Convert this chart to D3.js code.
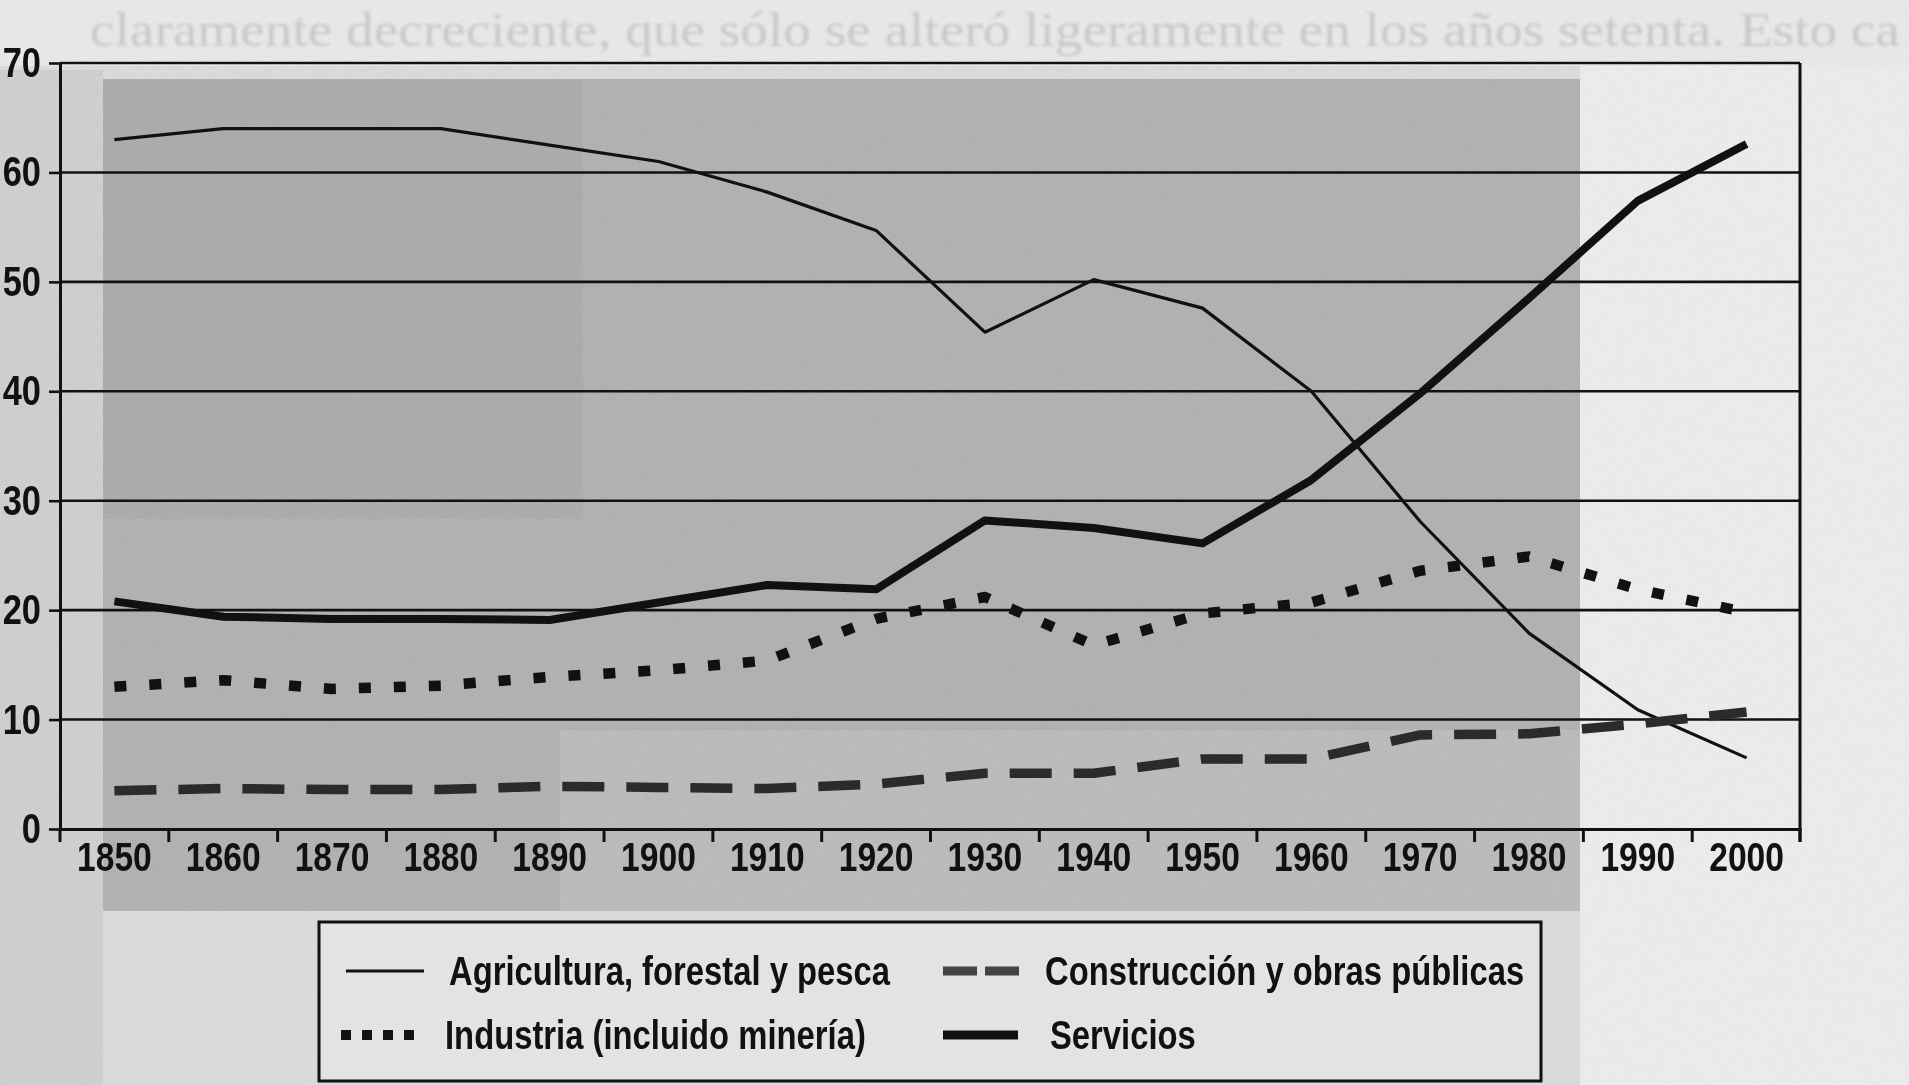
<!DOCTYPE html>
<html>
<head>
<meta charset="utf-8">
<script src="https://cdn.jsdelivr.net/npm/d3@7"></script>
<style>
  html, body { margin: 0; padding: 0; background: #e4e4e4; overflow: hidden; }
  svg { display: block; }
</style>
</head>
<body>
<div id="chart"></div>
<script>
const width = 1909
const height = 1085

const years = [1850, 1860, 1870, 1880, 1890, 1900, 1910, 1920, 1930, 1940, 1950, 1960, 1970, 1980, 1990, 2000]
const agricultura = [63, 64, 64, 64, 62.5, 61, 58.2, 54.7, 45.4, 50.2, 47.6, 40, 28.1, 17.9, 10.9, 6.5]
const industria = [13, 13.6, 12.8, 13.1, 13.9, 14.5, 15.4, 19.2, 21.2, 16.8, 19.7, 20.7, 23.6, 24.9, 21.9, 19.8]
const construccion = [3.5, 3.7, 3.6, 3.6, 3.9, 3.8, 3.7, 4.1, 5.1, 5.1, 6.4, 6.4, 8.6, 8.7, 9.6, 10.7]
const servicios = [20.8, 19.4, 19.2, 19.2, 19.1, 20.7, 22.3, 21.9, 28.2, 27.5, 26.1, 31.9, 39.8, 48.5, 57.4, 62.6]
const yTicks = [0, 10, 20, 30, 40, 50, 60, 70]
const names = ['Agricultura, forestal y pesca', 'Industria (incluido minería)', 'Construcción y obras públicas', 'Servicios']
const pageText = 'claramente decreciente, que sólo se alteró ligeramente en los años setenta. Esto ca'

// narrow font if there is one, else squeeze the normal one
function hasFont(name) {
  const ctx = document.createElement('canvas').getContext('2d')
  ctx.font = '40px monospace'
  const a = ctx.measureText('Agricultura 1850').width
  ctx.font = `40px "${name}", monospace`
  return ctx.measureText('Agricultura 1850').width !== a
}
const narrow = hasFont('Liberation Sans Narrow')
const font = narrow ? '"Liberation Sans Narrow", "Liberation Sans", Arial, sans-serif' : '"Liberation Sans", Arial, sans-serif'
const sx = narrow ? 1 : 0.82

const svg = d3.select('#chart').append('svg')
  .attr('width', width)
  .attr('height', height)

// paper / scan background
const defs = svg.append('defs')
const grain = defs.append('filter').attr('id', 'grain').attr('x', 0).attr('y', 0).attr('width', 1).attr('height', 1)
grain.append('feTurbulence').attr('type', 'fractalNoise').attr('baseFrequency', 0.75).attr('numOctaves', 2).attr('seed', 4)
grain.append('feColorMatrix').attr('type', 'saturate').attr('values', 0)
defs.append('filter').attr('id', 'soft').append('feGaussianBlur').attr('stdDeviation', 1.6)

const bg = svg.append('g')
bg.append('rect').attr('width', width).attr('height', height).attr('fill', '#e0e0e0')
bg.append('rect').attr('x', 0).attr('y', 70).attr('width', 103).attr('height', 1015).attr('fill', '#d4d4d4')
bg.append('rect').attr('x', 1580).attr('y', 0).attr('width', 329).attr('height', 1085).attr('fill', '#f1f1f1')
bg.append('rect').attr('x', 0).attr('y', 0).attr('width', 1909).attr('height', 66).attr('fill', '#eeeeee')
bg.append('rect').attr('x', 103).attr('y', 79).attr('width', 1477).attr('height', 832).attr('fill', '#b6b6b6')
bg.append('rect').attr('x', 103).attr('y', 79).attr('width', 480).attr('height', 440).attr('fill', '#b0b0b0')
bg.append('rect').attr('x', 560).attr('y', 730).attr('width', 1020).attr('height', 181).attr('fill', '#c0c0c0')
bg.append('rect').attr('width', width).attr('height', height)
  .attr('filter', 'url(#grain)').attr('opacity', 0.2)
  .style('mix-blend-mode', 'multiply')

bg.append('text')
  .attr('x', 90).attr('y', 46)
  .attr('textLength', 1810).attr('lengthAdjust', 'spacingAndGlyphs')
  .attr('font-family', '"Liberation Serif", "DejaVu Serif", serif')
  .attr('font-size', 48)
  .attr('fill', '#c9c9c9')
  .attr('filter', 'url(#soft)')
  .text(pageText)

// scales
const x = d3.scaleBand().domain(years).range([60, 1801]).padding(0)
const cx = d => x(d) + x.bandwidth() / 2
const y = d3.scaleLinear().domain([0, 70]).range([829, 63])
const x0 = x.range()[0]
const x1 = x.range()[1] - 1

const ink = '#111'

// grid lines + frame
svg.append('g').selectAll('line')
  .data(yTicks.filter(d => d > 0))
  .enter().append('line')
  .attr('x1', x0).attr('x2', x1)
  .attr('y1', d => y(d)).attr('y2', d => y(d))
  .attr('stroke', ink).attr('stroke-width', 2.6)

svg.append('line')
  .attr('x1', x1).attr('x2', x1)
  .attr('y1', y(70)).attr('y2', y(0) + 13)
  .attr('stroke', ink).attr('stroke-width', 3)

// y axis
const yAxis = svg.append('g')
  .attr('transform', `translate(${x0},0)`)
  .call(d3.axisLeft(y).tickValues(yTicks).tickSize(11).tickPadding(9).tickSizeOuter(0))
yAxis.select('.domain').attr('stroke', ink).attr('stroke-width', 3)
yAxis.selectAll('.tick line').attr('stroke', ink).attr('stroke-width', 2.6)
yAxis.selectAll('text')
  .attr('font-family', font).attr('font-weight', 'bold').attr('font-size', 42).attr('fill', ink)
  .attr('x', -19 / sx)
  .attr('transform', `scale(${sx},1)`)

// x axis
const xAxis = svg.append('g')
  .attr('transform', `translate(0,${y(0)})`)
  .call(d3.axisBottom(x).tickSize(0).tickPadding(13))
xAxis.select('.domain').attr('stroke', ink).attr('stroke-width', 3)
xAxis.selectAll('text')
  .attr('font-family', font).attr('font-weight', 'bold').attr('font-size', 41).attr('fill', ink)
  .attr('transform', `scale(${sx},1)`)
xAxis.selectAll('.bound')
  .data(years.map(d => x(d)).concat([x1]))
  .enter().append('line')
  .attr('class', 'bound')
  .attr('x1', d => d).attr('x2', d => d)
  .attr('y1', 0).attr('y2', 13)
  .attr('stroke', ink).attr('stroke-width', 3)

// series
const series = [
  { name: names[0], values: agricultura, width: 3.2, dash: null, color: ink },
  { name: names[1], values: industria, width: 10.5, dash: '12 23', color: ink },
  { name: names[2], values: construccion, width: 9.5, dash: '42 22', color: '#2b2b2b' },
  { name: names[3], values: servicios, width: 8, dash: null, color: ink }
]

const line = d3.line()
  .x((d, i) => cx(years[i]))
  .y(d => y(d))

svg.append('g').selectAll('path')
  .data(series)
  .enter().append('path')
  .attr('d', d => line(d.values))
  .attr('fill', 'none')
  .attr('stroke', d => d.color)
  .attr('stroke-width', d => d.width)
  .attr('stroke-dasharray', d => d.dash)
  .attr('stroke-linejoin', 'round')

// legend
const legend = svg.append('g')
legend.append('rect')
  .attr('x', 319).attr('y', 922).attr('width', 1222).attr('height', 159)
  .attr('fill', '#e3e3e3').attr('stroke', ink).attr('stroke-width', 3)

const items = [
  { s: series[0], lx: 346, lw: 78, ly: 971, tx: 449, dash: null, width: 3.2, color: ink },
  { s: series[1], lx: 341, lw: 75, ly: 1035, tx: 445, dash: '10 11', width: 10, color: ink },
  { s: series[2], lx: 943, lw: 76, ly: 971, tx: 1045, dash: '34 8', width: 9, color: '#444' },
  { s: series[3], lx: 943, lw: 75, ly: 1035, tx: 1050, dash: null, width: 9, color: ink }
]

const li = legend.selectAll('.item')
  .data(items)
  .enter().append('g')
  .attr('class', 'item')

li.append('line')
  .attr('x1', d => d.lx).attr('x2', d => d.lx + d.lw)
  .attr('y1', d => d.ly).attr('y2', d => d.ly)
  .attr('stroke', d => d.color)
  .attr('stroke-width', d => d.width)
  .attr('stroke-dasharray', d => d.dash)

li.append('text')
  .attr('transform', d => `translate(${d.tx},${d.ly + 14}) scale(${sx},1)`)
  .attr('font-family', font).attr('font-weight', 'bold').attr('font-size', 40).attr('fill', ink)
  .text(d => d.s.name)
</script>
</body>
</html>
